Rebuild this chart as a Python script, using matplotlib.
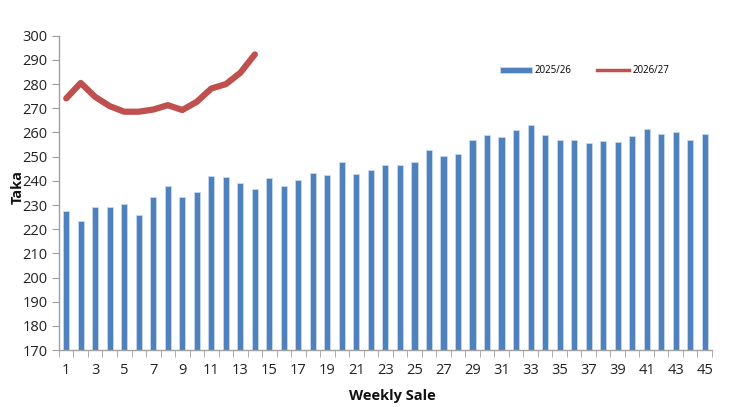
import numpy as np
import matplotlib
matplotlib.use("Agg")
import matplotlib.pyplot as plt
from matplotlib.ticker import FixedLocator
from matplotlib.lines import Line2D
from matplotlib.patches import Patch

# weekly sale numbers
weeks = list(range(1, 46))
sales_2025 = [227.5, 223.5, 229.0, 229.2, 230.3, 226.0, 233.2, 238.0, 233.2, 235.2,
              242.0, 241.6, 239.3, 236.5, 241.0, 238.0, 240.3, 243.2, 242.3, 247.7,
              242.8, 244.5, 246.4, 246.4, 247.7, 252.6, 250.2, 251.0, 257.1, 258.8,
              258.0, 261.0, 263.3, 259.0, 257.1, 257.1, 255.7, 256.4, 256.2, 258.5,
              261.5, 259.3, 260.0, 257.1, 259.3]
weeks_2026 = list(range(1, 15))
sales_2026 = [274.1, 280.5, 274.7, 270.9, 268.6, 268.6, 269.5, 271.3, 269.3, 272.7,
              278.2, 280.0, 284.7, 292.3]
label_2025 = "2025/26"
label_2026 = "2026/27"

bar_color = "#4F81BD"
line_color = "#C0504D"

plt.rcParams['font.family'] = ['Open Sans', 'DejaVu Sans']

fig = plt.figure(figsize=(7.37, 4.07), dpi=100)
ax = fig.add_axes([0.080, 0.140, 0.886, 0.772])

ax.bar(weeks, sales_2025, width=0.42, color=bar_color, edgecolor="#C6D9F1",
       linewidth=0.6, zorder=2)
ax.plot(weeks_2026, sales_2026, color=line_color, linewidth=4.5,
        solid_capstyle="round", solid_joinstyle="round", zorder=3)

ax.set_xlim(0.5, 45.5)
ax.set_ylim(170, 300)
ax.set_yticks(np.arange(170, 301, 10))
ax.set_xticks(weeks[::2])
ax.xaxis.set_minor_locator(FixedLocator(np.arange(0.5, 46, 1)))
ax.tick_params(axis="x", which="major", length=0, pad=9, labelsize=10.5, colors="#222222")
ax.tick_params(axis="x", which="minor", length=5, color="#A0A0A0")
ax.tick_params(axis="y", length=5, color="#A0A0A0", labelsize=10.5, labelcolor="#222222", pad=3)

for side in ["top", "right"]:
    ax.spines[side].set_visible(False)
for side in ["left", "bottom"]:
    ax.spines[side].set_color("#A0A0A0")
    ax.spines[side].set_linewidth(1.0)

fig.text(18 / 737, 1 - 187 / 407, "Taka", rotation=90, ha="center", va="center",
         fontsize=10.5, fontweight="bold", color="#111111")
fig.text(392 / 737, 1 - 396 / 407, "Weekly Sale", ha="center", va="center",
         fontsize=10.5, fontweight="bold", color="#111111")

handles = [Patch(facecolor=bar_color, edgecolor="#C6D9F1", linewidth=0.6),
           Line2D([0], [0], color=line_color, linewidth=2.5)]
fig.legend(handles, [label_2025, label_2026], loc="center",
           bbox_to_anchor=(0.793, 0.826), ncol=2, frameon=False,
           fontsize=7, handlelength=3.3, handletextpad=0.3, columnspacing=2.6,
           handleheight=0.6)

fig.savefig("out.png", dpi=100)
